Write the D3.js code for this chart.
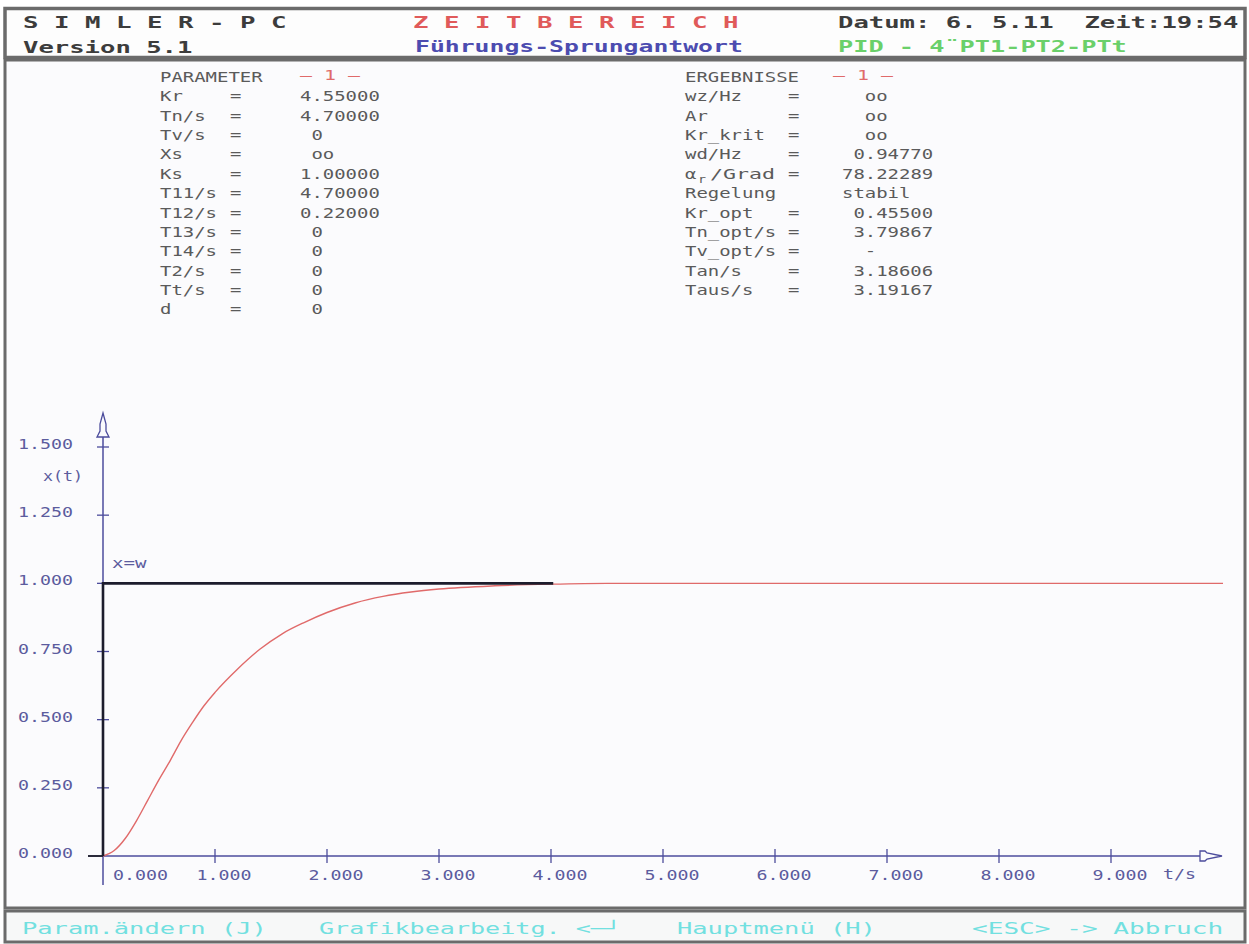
<!DOCTYPE html>
<html lang="de">
<head>
<meta charset="utf-8">
<title>SIMLER-PC - Zeitbereich</title>
<script src="https://cdn.jsdelivr.net/npm/d3@7"></script>
<style>
  body { margin: 0; padding: 0; background: #ffffff; }
  svg { display: block; }
  text { font-family: 'DejaVu Sans Mono', 'Liberation Mono', monospace; white-space: pre; }
</style>
</head>
<body>
<div id="chart"></div>
<script>
// Sprungantwort x(t)
var zeitWerte = [0, 0.1, 0.2, 0.3, 0.4, 0.5, 0.6, 0.7, 0.8, 0.9, 1.0, 1.2, 1.4, 1.6, 1.8, 2.0, 2.25, 2.5, 2.75, 3.0, 3.5, 4.0, 4.5, 10.0];
var xWerte    = [0, 0.02, 0.065, 0.13, 0.205, 0.28, 0.35, 0.425, 0.49, 0.55, 0.6, 0.685, 0.758, 0.815, 0.857, 0.893, 0.928, 0.952, 0.968, 0.979, 0.991, 0.997, 1.0, 1.0];

// Fuehrungsgroesse w (Sprung)
var wZeit = [0, 0, 4.02];
var wWerte = [0, 1, 1];

var xTicks = [0, 1, 2, 3, 4, 5, 6, 7, 8, 9];
var yTicks = [0, 0.25, 0.5, 0.75, 1.0, 1.25, 1.5];

var paramNamen = ["Kr", "Tn/s", "Tv/s", "Xs", "Ks", "T11/s", "T12/s", "T13/s", "T14/s", "T2/s", "Tt/s", "d"];
var paramWerte = ["4.55000", "4.70000", " 0", " oo", "1.00000", "4.70000", "0.22000", " 0", " 0", " 0", " 0", " 0"];

var ergNamen = ["wz/Hz", "Ar", "Kr_krit", "wd/Hz", "ALPHA", "Regelung", "Kr_opt", "Tn_opt/s", "Tv_opt/s", "Tan/s", "Taus/s"];
var ergWerte = ["  oo", "  oo", "  oo", " 0.94770", "78.22289", "stabil", " 0.45500", " 3.79867", "  -", " 3.18606", " 3.19167"];

var W = 1249, H = 944;

var svg = d3.select("#chart").append("svg")
    .attr("width", W)
    .attr("height", H);

// Text im Pixelfont-Stil: feste Zeichenbreite
function pxText(g, str, x, y, adv, size, color, bold) {
  var lead = str.length - str.replace(/^ +/, "").length;
  var s = str.replace(/^ +/, "");
  return g.append("text")
    .attr("x", x + lead * adv)
    .attr("y", y)
    .attr("font-size", size)
    .attr("font-weight", bold ? "bold" : "normal")
    .attr("fill", color)
    .attr("textLength", s.length * adv)
    .attr("lengthAdjust", "spacingAndGlyphs")
    .text(s);
}

// Rahmen
var rahmen = "#6b6b6b";
svg.append("rect").attr("x", 5).attr("y", 8.5).attr("width", 1240).attr("height", 49)
  .attr("fill", "#fdfdfd").attr("stroke", rahmen).attr("stroke-width", 3.5);
svg.append("rect").attr("x", 5).attr("y", 60).attr("width", 1240).attr("height", 848)
  .attr("fill", "#fbfbfd").attr("stroke", rahmen).attr("stroke-width", 3);
svg.append("rect").attr("x", 5).attr("y", 911).attr("width", 1240).attr("height", 31)
  .attr("fill", "#f7f8f8").attr("stroke", rahmen).attr("stroke-width", 3);

// Kopfzeile
var kopf = svg.append("g");
pxText(kopf, "S I M L E R - P C", 23, 28, 15.5, 15, "#3c3c3c", true);
pxText(kopf, "Version 5.1", 23, 53, 15.4, 15, "#3c3c3c", true);
pxText(kopf, "Z E I T B E R E I C H", 413, 28, 15.5, 15, "#e05a5a", true);
pxText(kopf, "Führungs-Sprungantwort", 415, 52, 14.9, 15, "#4c4cb0", true);
pxText(kopf, "Datum: 6. 5.11  Zeit:19:54", 838, 28, 15.4, 15, "#3c3c3c", true);
pxText(kopf, "PID - 4¨PT1-PT2-PTt", 838, 52, 15.2, 15, "#6ad06a", true);

// Parameter / Ergebnisse
var grau = "#5a5a5a", rot = "#e06a6a";
var info = svg.append("g");
var zeile = 19.37, adv = 11.4;
pxText(info, "PARAMETER", 160, 82, adv, 14, grau, false);
pxText(info, "— 1 —", 300, 80, 12, 14, rot, false);
paramNamen.forEach(function(n, i) {
  var y = 82 + (i + 1) * zeile;
  pxText(info, n, 160, y, adv, 14, grau, false);
  pxText(info, "=", 230, y, adv, 14, grau, false);
  pxText(info, paramWerte[i], 300, y, adv, 14, grau, false);
});

pxText(info, "ERGEBNISSE", 685, 82, adv, 14, grau, false);
pxText(info, "— 1 —", 833, 80, 12, 14, rot, false);
ergNamen.forEach(function(n, i) {
  var y = 82 + (i + 1) * zeile;
  if (n === "ALPHA") {
    pxText(info, "α", 685, y, adv, 14, grau, false);
    pxText(info, "r", 698, y + 4, 8, 11, grau, false);
    pxText(info, "/Grad", 710, y, 13, 14, grau, false);
  } else {
    pxText(info, n, 685, y, adv, 14, grau, false);
  }
  if (n !== "Regelung") pxText(info, "=", 788, y, adv, 14, grau, false);
  pxText(info, ergWerte[i], 842, y, adv, 14, grau, false);
});

// Skalen
var x = d3.scaleLinear().domain([0, 9]).range([103, 1111]);
var y = d3.scaleLinear().domain([0, 1.5]).range([856, 447]);
var fmt = d3.format(".3f");
var achse = "#4c4c9c", beschr = "#5c5c9e";

var plot = svg.append("g");

// y-Achse
plot.append("line").attr("x1", x(0)).attr("x2", x(0))
  .attr("y1", 885).attr("y2", 437)
  .attr("stroke", achse).attr("stroke-width", 1.5);
plot.append("path")
  .attr("d", "M" + x(0) + ",413 l3,11 v7 l3,6 h-12 l3,-6 v-7 z")
  .attr("fill", "#fbfbfd").attr("stroke", achse).attr("stroke-width", 1.3);

plot.selectAll(".ytick").data(yTicks.filter(function(d) { return d > 0; }))
  .enter().append("line")
  .attr("x1", x(0) - 6).attr("x2", x(0) + 6)
  .attr("y1", function(d) { return y(d); }).attr("y2", function(d) { return y(d); })
  .attr("stroke", achse).attr("stroke-width", 1.3);
plot.append("line").attr("x1", x(0) - 15).attr("x2", x(0))
  .attr("y1", y(0)).attr("y2", y(0)).attr("stroke", "#2a2a3a").attr("stroke-width", 2);

yTicks.forEach(function(d) {
  pxText(plot, fmt(d), 18, y(d) + 2, 11, 14, beschr, false);
});
pxText(plot, "x(t)", 43, 481, 10, 14, beschr, false);

// x-Achse
plot.append("line").attr("x1", x(0)).attr("x2", 1200)
  .attr("y1", y(0)).attr("y2", y(0))
  .attr("stroke", achse).attr("stroke-width", 1.5);
plot.append("path")
  .attr("d", "M1200," + (y(0) - 5) + " h5 l2,2 l15,3 l-15,3 l-2,2 h-5 z")
  .attr("fill", "#fbfbfd").attr("stroke", achse).attr("stroke-width", 1.3);

plot.selectAll(".xtick").data(xTicks.filter(function(d) { return d > 0; }))
  .enter().append("line")
  .attr("x1", function(d) { return x(d); }).attr("x2", function(d) { return x(d); })
  .attr("y1", y(0) - 7).attr("y2", y(0) + 7)
  .attr("stroke", achse).attr("stroke-width", 1.3);

xTicks.forEach(function(d) {
  var lx = d === 0 ? 113 : x(d) + 9 - 27.5;
  pxText(plot, fmt(d), lx, 880, 11, 14, beschr, false);
});
pxText(plot, "t/s", 1163, 879, 11, 14, beschr, false);

// Kurven
plot.append("path")
  .datum(d3.zip(zeitWerte, xWerte))
  .attr("d", d3.line()
    .x(function(d) { return x(d[0]); })
    .y(function(d) { return y(d[1]); })
    .curve(d3.curveMonotoneX))
  .attr("fill", "none").attr("stroke", "#e06a6a").attr("stroke-width", 1.4);

plot.append("path")
  .datum(d3.zip(wZeit, wWerte))
  .attr("d", d3.line().x(function(d) { return x(d[0]); }).y(function(d) { return y(d[1]); }))
  .attr("fill", "none").attr("stroke", "#1c1c2c").attr("stroke-width", 2.6);

pxText(plot, "x=w", 112, 568, 11.5, 14, beschr, false);

// Fusszeile
var fuss = svg.append("g");
var cyan = "#72e0e0";
pxText(fuss, "Param.ändern (J)", 22, 934, 15.3, 15, cyan, false);
pxText(fuss, "Grafikbearbeitg. <─┘", 319, 934, 15.1, 15, cyan, false);
pxText(fuss, "Hauptmenü (H)", 677, 934, 15.3, 15, cyan, false);
pxText(fuss, "<ESC> -> Abbruch", 972, 934, 15.7, 15, cyan, false);
</script>
</body>
</html>
